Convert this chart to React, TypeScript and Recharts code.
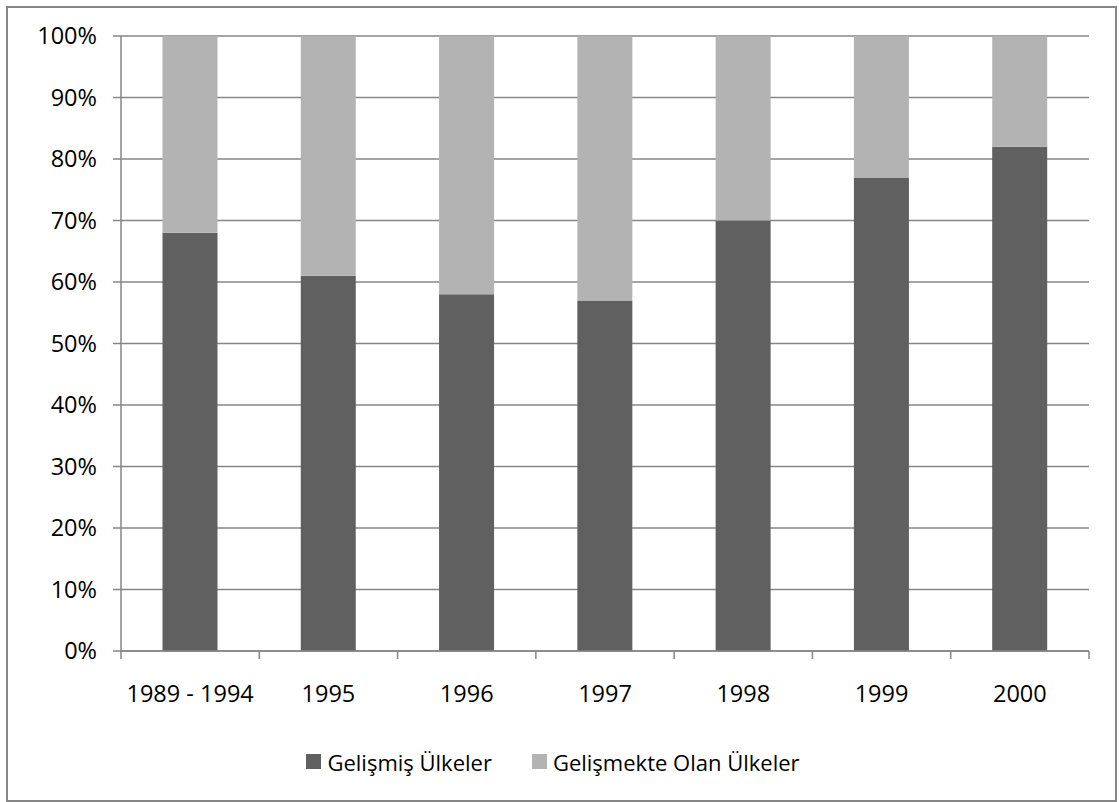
import React from "react";
import { BarChart, Bar, XAxis, YAxis, CartesianGrid, Legend } from "recharts";

const years = ["1989 - 1994", "1995", "1996", "1997", "1998", "1999", "2000"];
const developed = [68, 61, 58, 57, 70, 77, 82];
const developing = [32, 39, 42, 43, 30, 23, 18];
const yTicks = [0, 10, 20, 30, 40, 50, 60, 70, 80, 90, 100];
const seriesNames = ["Gelişmiş Ülkeler", "Gelişmekte Olan Ülkeler"];

const data = years.map((y, i) => ({
  year: y,
  dev: developed[i],
  devg: developing[i],
}));

const W = 1119;
const H = 802;
const MARGIN = { top: 36, right: 30, left: 41, bottom: 0 };
const Y_W = 80;
const PLOT_W = W - MARGIN.left - Y_W - MARGIN.right;
const BAND = PLOT_W / years.length;
const GRID = "#868686";
const FONT = "'Open Sans', sans-serif";
const AXIS_FS = 23.5;

function XTick(props: any) {
  const { x, y, payload, index } = props;
  const axisY = y - 8;
  const half = BAND / 2;
  return (
    <g>
      <line x1={x - half} x2={x - half} y1={axisY} y2={axisY + 8} stroke={GRID} strokeWidth={1.5} />
      {index === years.length - 1 && (
        <line x1={x + half} x2={x + half} y1={axisY} y2={axisY + 8} stroke={GRID} strokeWidth={1.5} />
      )}
      <text x={x} y={y + 43} textAnchor="middle" fill="#000" fontSize={AXIS_FS} fontFamily={FONT}>
        {payload.value}
      </text>
    </g>
  );
}

function LegendBox(props: any) {
  const items = [...(props.payload || [])].sort(
    (a: any, b: any) => seriesNames.indexOf(a.value) - seriesNames.indexOf(b.value)
  );
  return (
    <div
      style={{
        height: 81,
        display: "flex",
        justifyContent: "center",
        alignItems: "center",
        paddingRight: 24,
        fontFamily: FONT,
        fontSize: 22,
        color: "#000",
      }}
    >
      {items.map((it: any, i: number) => (
        <div key={i} style={{ display: "flex", alignItems: "center", marginLeft: i ? 40 : 0 }}>
          <span style={{ width: 15, height: 15, background: it.color, display: "inline-block", marginRight: 6 }} />
          <span>{it.value}</span>
        </div>
      ))}
    </div>
  );
}

export default function App() {
  return (
    <div style={{ position: "absolute", left: 0, top: 0, width: W, height: H, background: "#fff" }}>
      <BarChart width={W} height={H} data={data} margin={MARGIN} barCategoryGap="30%">
        <CartesianGrid vertical={false} stroke={GRID} strokeWidth={1.5} />
        <XAxis
          dataKey="year"
          height={70}
          tickSize={8}
          tickMargin={0}
          tickLine={false}
          axisLine={{ stroke: GRID, strokeWidth: 1.5 }}
          tick={<XTick />}
          interval={0}
        />
        <YAxis
          width={Y_W}
          domain={[0, 100]}
          ticks={yTicks}
          interval={0}
          tickFormatter={(v: number) => `${v}%`}
          tickSize={8}
          tickMargin={16}
          axisLine={{ stroke: GRID, strokeWidth: 1.5 }}
          tickLine={{ stroke: GRID, strokeWidth: 1.5 }}
          tick={{ fill: "#000", fontSize: AXIS_FS, fontFamily: FONT }}
        />
        <Legend verticalAlign="bottom" content={<LegendBox />} />
        <Bar dataKey="dev" name={seriesNames[0]} stackId="a" fill="#606060" isAnimationActive={false} />
        <Bar dataKey="devg" name={seriesNames[1]} stackId="a" fill="#b3b3b3" isAnimationActive={false} />
      </BarChart>
      <div
        style={{
          position: "absolute",
          left: 6,
          top: 6,
          width: 1111,
          height: 796,
          border: `2px solid ${GRID}`,
          boxSizing: "border-box",
          pointerEvents: "none",
        }}
      />
    </div>
  );
}
